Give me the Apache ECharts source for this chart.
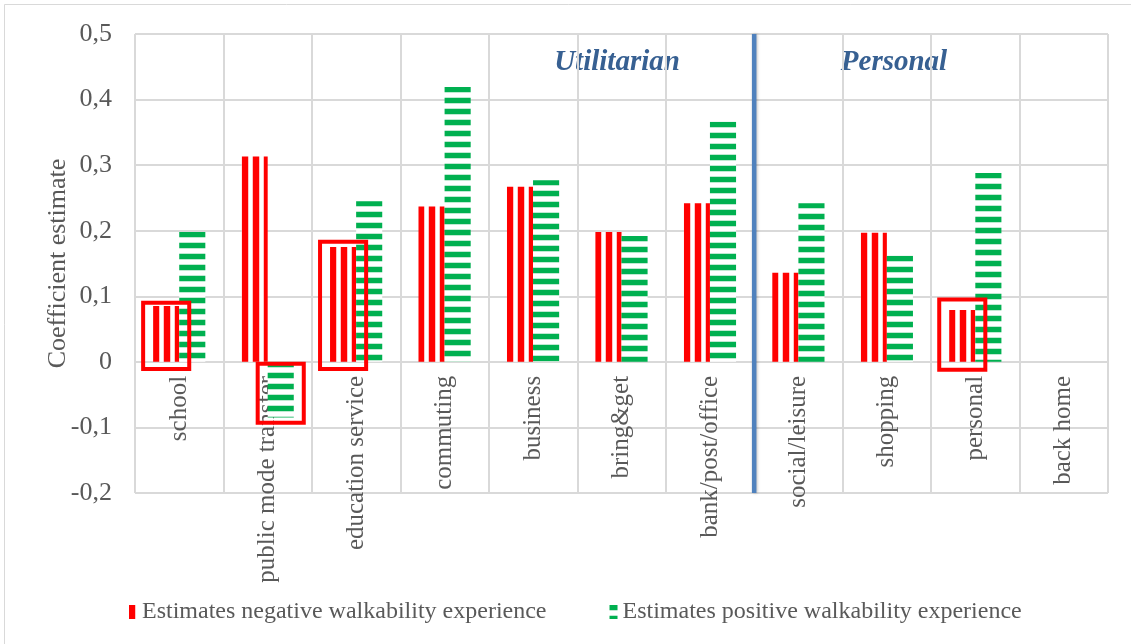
<!DOCTYPE html>
<html>
<head>
<meta charset="utf-8">
<script src="https://cdn.jsdelivr.net/npm/echarts@6/dist/echarts.min.js"></script>
<style>
  html, body { margin: 0; padding: 0; background: #ffffff; }
  #chart { width: 1131px; height: 644px; }
</style>
</head>
<body>
<div id="chart"></div>
<script>
// ---- data ----
const categories = ['school', 'public mode transfer', 'education service', 'commuting', 'business',
  'bring&get', 'bank/post/office', 'social/leisure', 'shopping', 'personal', 'back home'];
const negativeValues = [0.085, 0.313, 0.175, 0.237, 0.267, 0.198, 0.242, 0.136, 0.197, 0.079, null];
const positiveValues = [0.198, -0.085, 0.245, 0.419, 0.277, 0.192, 0.366, 0.242, 0.162, 0.288, null];
const seriesNames = ['Estimates negative walkability experience', 'Estimates positive walkability experience'];
const yTickLabels = ['-0,2', '-0,1', '0', '0,1', '0,2', '0,3', '0,4', '0,5'];
// highlight boxes: [category index, series index (0 neg, 1 pos), low value, high value]
const highlightBoxes = [
  [0, 0, -0.011, 0.090],
  [1, 1, -0.093, -0.003],
  [2, 0, -0.011, 0.183],
  [9, 0, -0.012, 0.095]
];
const groupLabels = ['Utilitarian', 'Personal'];
const dividerAfterIndex = [6];

// ---- style ----
const FONT = '"Liberation Serif", "Times New Roman", serif';
const BAR_FRAC = 0.295;
const Y_MIN = -0.2, Y_MAX = 0.5;
const GRID_TOP = 34, GRID_BOTTOM = 151, H = 644;
const plotH = H - GRID_TOP - GRID_BOTTOM;
const zeroOffset = plotH * (0 - Y_MIN) / (Y_MAX - Y_MIN);

function stripeCanvas(vertical, color, fringe, period, stripe) {
  const c = document.createElement('canvas');
  c.width = period; c.height = period;
  const ctx = c.getContext('2d');
  ctx.fillStyle = '#ffffff';
  ctx.fillRect(0, 0, period, period);
  ctx.fillStyle = fringe;
  if (vertical) { ctx.fillRect(period - 1, 0, 1, period); ctx.fillRect(stripe, 0, 1, period); }
  else { ctx.fillRect(0, period - 1, period, 1); ctx.fillRect(0, stripe, period, 1); }
  ctx.fillStyle = color;
  if (vertical) ctx.fillRect(0, 0, stripe, period);
  else ctx.fillRect(0, 0, period, stripe);
  return c;
}
const redCanvas = stripeCanvas(true, '#ff0000', '#ffc4c4', 11, 6);
const greenCanvas = stripeCanvas(false, '#00b050', '#bfe9d2', 11, 5);
function pat(canvas, x, y) { return { image: canvas, repeat: 'repeat', x: x || 0, y: y || 0 }; }

const chart = echarts.init(document.getElementById('chart'), null, { renderer: 'canvas' });

function barSeries(idx, values, canvas) {
  return {
    name: seriesNames[idx], type: 'bar', data: values,
    barWidth: (BAR_FRAC * 100) + '%', barGap: '0%',
    itemStyle: { color: pat(canvas) },
    emphasis: { disabled: true }
  };
}

const option = {
  animation: false,
  backgroundColor: '#ffffff',
  textStyle: { fontFamily: FONT },
  grid: { left: 135, right: 23, top: GRID_TOP, bottom: GRID_BOTTOM, containLabel: false, outerBoundsMode: 'none' },
  xAxis: {
    type: 'category',
    data: categories,
    boundaryGap: true,
    position: 'bottom',
    offset: -zeroOffset,
    axisLine: { show: true, onZero: false, lineStyle: { color: '#d9d9d9', width: 2 } },
    axisTick: { show: false },
    axisLabel: { rotate: 90, interval: 0, margin: 14, color: '#595959', fontSize: 25, fontFamily: FONT, hideOverlap: false },
    splitLine: { show: true, interval: 0, lineStyle: { color: '#d9d9d9', width: 2 } }
  },
  yAxis: {
    type: 'value',
    min: Y_MIN, max: Y_MAX, interval: 0.1,
    name: 'Coefficient estimate',
    nameLocation: 'middle',
    nameGap: 64,
    nameRotate: 90,
    nameMoveOverlap: false,
    nameTextStyle: { color: '#595959', fontSize: 26, fontFamily: FONT },
    axisLine: { show: false },
    axisTick: { show: false },
    axisLabel: {
      margin: 23, color: '#595959', fontSize: 26, fontFamily: FONT,
      formatter: function (v) { return yTickLabels[Math.round((v - Y_MIN) * 10)]; }
    },
    splitLine: { show: true, lineStyle: { color: '#d9d9d9', width: 2 } }
  },
  legend: {
    data: seriesNames,
    left: 124, top: 595,
    itemWidth: 8, itemHeight: 14, itemGap: 63,
    icon: 'rect',
    textStyle: { color: '#595959', fontSize: 24, fontFamily: FONT }
  },
  series: [
    barSeries(0, negativeValues, redCanvas),
    barSeries(1, positiveValues, greenCanvas),
    {
      name: 'boxes', type: 'custom', z: 5, silent: true,
      data: highlightBoxes,
      encode: { x: 0, y: [2, 3] },
      renderItem: function (params, api) {
        const cat = api.value(0), s = api.value(1);
        const band = api.size([1, 0])[0];
        const bw = band * BAR_FRAC;
        const cx = api.coord([cat, 0])[0] + (s === 0 ? -bw / 2 : bw / 2);
        const yLow = api.coord([cat, api.value(2)])[1];
        const yHigh = api.coord([cat, api.value(3)])[1];
        return {
          type: 'rect',
          shape: { x: cx - bw / 2 - 10, y: yHigh, width: bw + 20, height: yLow - yHigh },
          style: { fill: 'none', stroke: '#ff0000', lineWidth: 4 }
        };
      }
    },
    {
      name: 'divider', type: 'custom', z: 4, silent: true,
      data: dividerAfterIndex.map(function (i) { return [i, 0]; }),
      encode: { x: 0, y: 1 },
      renderItem: function (params, api) {
        const i = api.value(0);
        const x = (api.coord([i, 0])[0] + api.coord([i + 1, 0])[0]) / 2;
        const cs = params.coordSys;
        return {
          type: 'line',
          shape: { x1: x, y1: cs.y, x2: x, y2: cs.y + cs.height },
          style: { stroke: '#4f81bd', lineWidth: 4.5, shadowBlur: 3, shadowColor: 'rgba(0,0,0,0.25)', shadowOffsetX: 1 }
        };
      }
    }
  ],
  graphic: [
    { type: 'rect', silent: true, shape: { x: 4.5, y: 4.5, width: 1200, height: 700 },
      style: { fill: 'none', stroke: '#d9d9d9', lineWidth: 1 } },
    { type: 'text', silent: true, x: 617, y: 63,
      style: { text: groupLabels[0], font: 'italic bold 29px ' + FONT, fill: '#376092', align: 'center', verticalAlign: 'middle' } },
    { type: 'text', silent: true, x: 894, y: 63,
      style: { text: groupLabels[1], font: 'italic bold 29px ' + FONT, fill: '#376092', align: 'center', verticalAlign: 'middle' } }
  ]
};
chart.setOption(option);

// Align stripe patterns with each bar's own edge (like the original), using the library's bar layout.
try {
  const model = chart.getModel();
  const canvases = [redCanvas, greenCanvas];
  const valueLists = [negativeValues, positiveValues];
  const newSeries = [0, 1].map(function (si) {
    const data = model.getSeriesByIndex(si).getData();
    return {
      data: valueLists[si].map(function (v, j) {
        if (v == null) return v;
        const l = data.getItemLayout(j);
        if (!l) return v;
        const left = Math.min(l.x, l.x + l.width);
        const top = Math.min(l.y, l.y + l.height);
        return { value: v, itemStyle: { color: pat(canvases[si], Math.round(left), Math.round(top)) } };
      })
    };
  });
  chart.setOption({ series: newSeries });
} catch (e) { /* keep default pattern phase */ }
</script>
</body>
</html>
